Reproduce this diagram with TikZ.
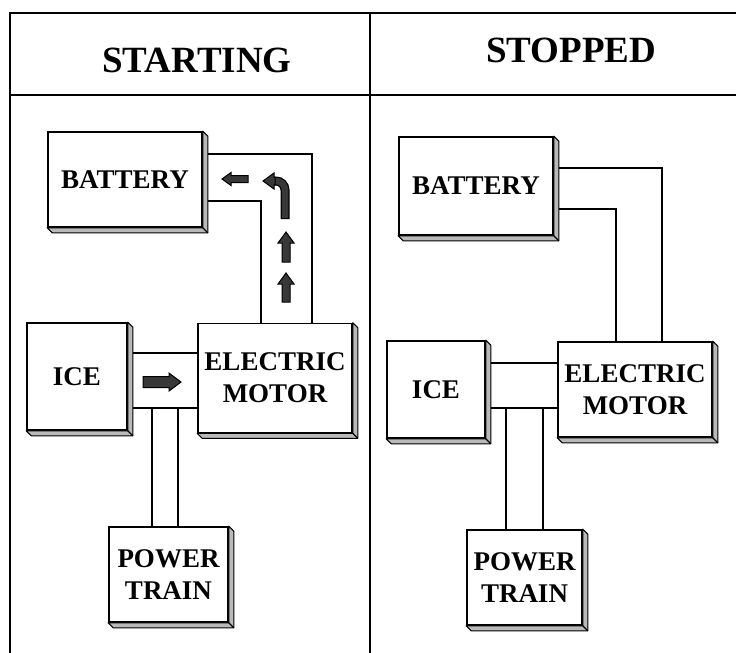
\documentclass[tikz,border=0pt]{standalone}
\usepackage{fontspec}
\setmainfont{Liberation Serif}
\usepackage{xcolor}
\usepackage{tikz}

\tikzset{
    unitbox/.style={draw, fill=white, line width=1.6pt, inner sep=0pt,
        align=center, font=\fontsize{27}{32}\selectfont\bfseries},
    slabside/.style={draw, fill=gray!55, line width=1.1pt, line join=round},
    headtext/.style={font=\fontsize{37}{40}\selectfont\bfseries},
    wire/.style={line width=1.8pt},
    grid/.style={line width=1.6pt},
    arrowbody/.style={draw=black, fill=black!78, line width=1pt, line join=miter},
    pics/blockarr/.style n args={4}{code={
        \filldraw[arrowbody] (0,-#2pt) -- (#1pt-#4pt,-#2pt) -- (#1pt-#4pt,-#3pt)
            -- (#1pt,0) -- (#1pt-#4pt,#3pt) -- (#1pt-#4pt,#2pt) -- (0,#2pt) -- cycle;
    }}
}
\newcommand{\slab}[1]{%
    \draw[slabside] (#1.north east) -- ++(5pt,-5pt)
        -- ([shift={(5pt,-5pt)}]#1.south east)
        -- ([shift={(5pt,-5pt)}]#1.south west)
        -- (#1.south west) -- (#1.south east) -- cycle;
    \draw[slabside] (#1.south east) -- ++(5pt,-5pt);}

\begin{document}
\begin{tikzpicture}[x=1pt, y=-1pt]
    \useasboundingbox[fill=white] (0,0) rectangle (736,653);

    \draw[grid] (736,13) -- (10,13) -- (10,653);
    \draw[grid] (10,95) -- (736,95);
    \draw[grid] (370,13) -- (370,653);
    \node[headtext] (hstart) at (197,60) {STARTING};
    \node[headtext] (hstop) at (571,50) {STOPPED};

    % starting
    \node[unitbox, minimum width=154pt, minimum height=95pt] (lbat) at (125,179.5) {BATTERY};
    \node[unitbox, minimum width=100pt, minimum height=107pt] (lice) at (77,376.5) {ICE};
    \node[unitbox, minimum width=154pt, minimum height=109pt] (lem) at (275,378) {ELECTRIC\\MOTOR};
    \node[unitbox, minimum width=119pt, minimum height=95pt] (lpt) at (168.5,574.5) {POWER\\TRAIN};
    \slab{lbat} \slab{lice} \slab{lem} \slab{lpt}

    \draw[wire] ([xshift=5pt]lbat.east |- 0,154) -| (312,0 |- lem.north);
    \draw[wire] ([xshift=5pt]lbat.east |- 0,201) -| (261,0 |- lem.north);
    \draw[wire] ([xshift=5pt]lice.east |- 0,353) -- (lem.west |- 0,353);
    \draw[wire] ([xshift=5pt]lice.east |- 0,408) -- (lem.west |- 0,408);
    \draw[wire] (152,408) -- (152,0 |- lpt.north);
    \draw[wire] (178,408) -- (178,0 |- lpt.north);

    \pic[rotate=180] at (248,179) {blockarr={26}{3.5}{6.5}{9}};
    \draw[line width=9pt, rounded corners=9pt] (285,219) |- (273,181);
    \draw[line width=6.5pt, black!78, rounded corners=9pt, shorten <=1.2pt] (285,219) |- (273,181);
    \pic[rotate=180] at (275,181) {blockarr={12}{4}{8}{11}};
    \pic[rotate=90] at (286,262) {blockarr={30}{4}{8}{11}};
    \pic[rotate=90] at (286,302) {blockarr={29}{4}{8}{11}};
    \pic at (143,382) {blockarr={38}{5.5}{9}{12}};

    % stopped
    \node[unitbox, minimum width=154pt, minimum height=98pt] (rbat) at (476,186) {BATTERY};
    \node[unitbox, minimum width=98pt, minimum height=97pt] (rice) at (436,389.5) {ICE};
    \node[unitbox, minimum width=154pt, minimum height=95pt] (rem) at (635,389.5) {ELECTRIC\\MOTOR};
    \node[unitbox, minimum width=115pt, minimum height=95pt] (rpt) at (524.5,577.5) {POWER\\TRAIN};
    \slab{rbat} \slab{rice} \slab{rem} \slab{rpt}

    \draw[wire] ([xshift=5pt]rbat.east |- 0,168) -| (662,0 |- rem.north);
    \draw[wire] ([xshift=5pt]rbat.east |- 0,209) -| (616,0 |- rem.north);
    \draw[wire] ([xshift=5pt]rice.east |- 0,363) -- (rem.west |- 0,363);
    \draw[wire] ([xshift=5pt]rice.east |- 0,408) -- (rem.west |- 0,408);
    \draw[wire] (506,408) -- (506,0 |- rpt.north);
    \draw[wire] (543,408) -- (543,0 |- rpt.north);
\end{tikzpicture}
\end{document}
